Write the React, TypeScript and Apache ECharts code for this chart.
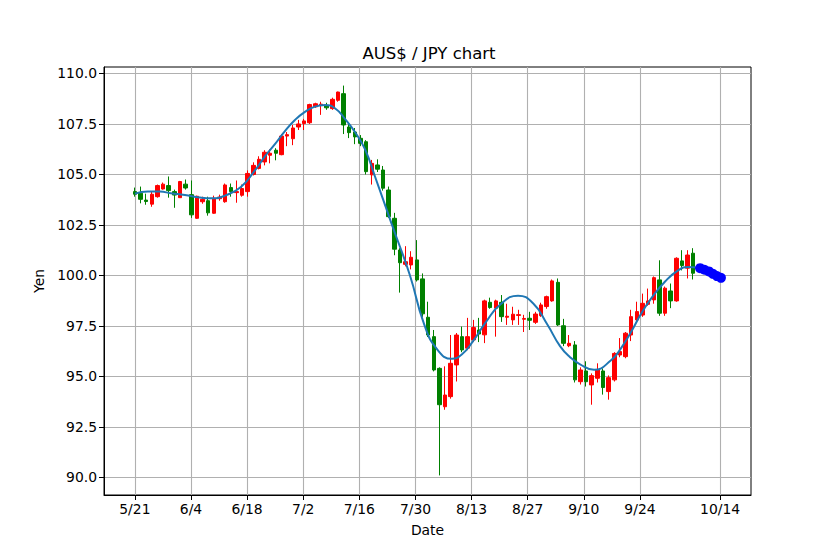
import React, { useEffect, useRef } from "react";
import * as echarts from "echarts";

// Candles (one per trading day, evenly spaced)
const opens = [
  104.15, 104.07, 103.73, 103.53, 103.9, 104.28, 104.45, 104.15, 103.85, 104.52,
  104.0, 102.83, 103.65, 103.7, 103.08, 103.8, 103.65, 104.35, 104.1, 103.97,
  104.15, 105.0, 105.3, 105.62, 105.95, 106.2, 105.98, 106.9, 106.77, 107.35,
  107.52, 107.56, 108.35, 108.42, 108.4, 108.26, 108.67, 109.0, 107.35, 107.1,
  106.79, 106.62, 104.98, 105.47, 105.22, 104.23, 102.83, 101.26, 100.55, 100.52,
  100.77, 99.83, 97.93, 96.97, 95.4, 93.5, 94.0, 95.57, 96.97, 96.4,
  96.81, 97.3, 97.06, 98.67, 98.38, 98.67, 97.93, 97.8, 98.02, 97.83,
  97.88, 97.68, 98.01, 98.46, 98.74, 99.66, 97.51, 96.52, 96.56, 94.74,
  95.27, 94.58, 94.91, 95.27, 94.25, 94.83, 96.06, 95.98, 97.05, 97.8,
  98.04, 98.57, 98.79, 99.78, 98.13, 99.23, 98.74, 100.72, 100.36, 101.1,
];
const closes = [
  104.02, 103.77, 103.66, 104.02, 104.45, 104.52, 104.2, 103.98, 104.65, 104.33,
  103.0, 103.92, 103.77, 103.1, 103.82, 103.88, 104.48, 104.15, 104.15, 104.3,
  105.05, 105.45, 105.75, 106.1, 106.05, 106.05, 106.9, 106.97, 107.3, 107.5,
  107.65, 108.46, 108.5, 108.48, 108.3, 108.72, 109.08, 107.45, 107.07, 106.86,
  106.54, 105.14, 105.55, 105.26, 104.32, 102.91, 101.3, 100.63, 100.68, 100.9,
  99.78, 98.1, 97.05, 95.32, 93.6, 94.08, 95.65, 97.05, 96.31, 96.97,
  97.42, 97.1, 98.74, 98.41, 98.74, 97.96, 97.98, 98.08, 98.06, 97.87,
  97.78, 98.09, 98.54, 98.95, 99.73, 97.55, 96.64, 96.64, 94.83, 95.32,
  94.74, 95.04, 95.32, 94.45, 94.94, 96.14, 96.23, 97.14, 97.96, 98.21,
  98.62, 98.74, 99.89, 98.13, 99.37, 98.74, 100.85, 100.49, 101.01, 100.11,
];
const lows = [
  103.9, 103.57, 103.5, 103.4, 103.85, 104.25, 103.85, 103.35, 103.85, 104.25,
  102.85, 102.8, 103.55, 102.96, 103.05, 103.7, 103.6, 103.9, 103.6, 103.9,
  103.9, 104.95, 105.25, 105.45, 105.55, 105.7, 105.95, 106.4, 106.45, 107.2,
  107.2, 107.5, 108.3, 107.95, 108.2, 108.2, 108.6, 107.0, 106.8, 106.5,
  106.4, 105.0, 104.5, 105.12, 104.2, 102.85, 101.0, 99.15, 100.45, 100.3,
  99.7, 97.95, 96.95, 95.25, 90.1, 93.35, 93.9, 94.75, 96.2, 96.3,
  96.7, 96.7, 96.65, 98.35, 96.97, 97.7, 97.55, 97.55, 97.55, 97.2,
  97.3, 97.6, 97.95, 98.35, 98.7, 97.5, 96.5, 96.45, 94.7, 94.6,
  94.5, 93.6, 94.7, 94.1, 93.85, 94.75, 95.95, 95.9, 96.75, 97.7,
  97.95, 98.5, 98.6, 98.0, 98.0, 98.38, 98.7, 100.25, 99.85, 99.8,
];
const highs = [
  104.35, 104.4, 104.05, 104.15, 104.5, 104.6, 104.9, 104.25, 104.68, 104.75,
  104.7, 103.95, 103.9, 103.9, 103.95, 104.0, 104.55, 104.55, 104.7, 104.5,
  105.2, 105.6, 105.9, 106.2, 106.25, 106.3, 107.0, 107.1, 107.45, 107.7,
  107.75, 108.5, 108.55, 108.6, 108.55, 108.8, 109.1, 109.4, 107.55, 107.3,
  106.95, 106.7, 105.72, 105.75, 105.42, 104.4, 103.1, 101.35, 101.45, 101.2,
  101.75, 100.1, 98.7, 97.3, 95.45, 95.5, 97.05, 97.15, 97.47, 97.9,
  97.8, 97.9, 98.8, 98.9, 98.8, 99.03, 98.6, 98.45, 98.3, 98.05,
  98.2, 98.2, 98.65, 99.0, 99.8, 99.85, 97.85, 97.05, 96.75, 95.45,
  95.75, 95.15, 95.65, 95.4, 95.05, 96.2, 96.9, 97.2, 98.3, 98.7,
  99.1, 99.35, 99.95, 100.75, 99.45, 99.6, 100.9, 101.25, 101.25, 101.35,
];

// Fitted curve (days after 5/21, yen)
const fitDays = [
  0, 3.24, 6.24, 8.98, 12.48, 16.22, 19.22, 22.46, 26.45, 29.95,
  32.44, 34.94, 37.43, 39.93, 42.43, 44.92, 47.42, 49.91, 52.41, 54.9,
  57.4, 59.9, 64.14, 68.63, 72.13, 75.37, 79.11, 81.61, 84.36, 87.6,
  91.09, 95.58, 99.33, 102.82, 106.06, 108.56, 111.06, 114.55, 118.79, 121.29,
  123.78, 126.28, 128.77, 132.27, 135.51, 138.01, 140.5,
];
const fitValues = [
  104.05, 104.15, 104.15, 104.07, 103.98, 103.86, 103.82, 103.95, 104.38, 105.2,
  105.9, 106.5, 107.15, 107.7, 108.1, 108.36, 108.44, 108.28, 107.75, 107.1,
  106.25, 104.9, 102.5, 100.0, 97.6, 96.35, 95.87, 96.1, 96.75, 97.7,
  98.55, 99.0, 98.62, 97.6, 96.5, 95.95, 95.6, 95.33, 95.8, 96.4,
  97.2, 98.1, 98.85, 99.7, 100.25, 100.42, 100.38,
];

// Forecast points
const predDays = [141.0, 142.1, 143.2, 144.2, 145.2, 146.2];
const predValues = [100.36, 100.28, 100.2, 100.08, 99.97, 99.88];

// Axis ticks
const xTickDays = [0, 14, 28, 42, 56, 70, 84, 98, 112, 126, 146];
const xTickLabels = ["5/21", "6/4", "6/18", "7/2", "7/16", "7/30", "8/13", "8/27", "9/10", "9/24", "10/14"];
const yTicks = [90, 92.5, 95, 97.5, 100, 102.5, 105, 107.5, 110];

const CANDLE_STEP_DAYS = 1.407;

export default function App() {
  const ref = useRef<HTMLDivElement>(null);
  useEffect(() => {
    if (!ref.current) return;
    const chart = echarts.init(ref.current, undefined, { renderer: "svg" });
    const candleData = opens.map((o, i) => [i * CANDLE_STEP_DAYS, o, closes[i], lows[i], highs[i]]);
    const fitData = fitDays.map((d, i) => [d, fitValues[i]]);
    const predData = predDays.map((d, i) => [d, predValues[i]]);
    const font = "DejaVu Sans";
    chart.setOption({
      animation: false,
      backgroundColor: "#ffffff",
      textStyle: { fontFamily: font },
      title: {
        text: "AUS$ / JPY chart",
        left: 424,
        top: 40,
        textAlign: "center",
        textStyle: { fontFamily: font, fontSize: 16.5, fontWeight: "normal", color: "#000" },
      },
      grid: {
        left: 104,
        right: 83,
        top: 67,
        bottom: 61,
        show: true,
        borderColor: "#000",
        borderWidth: 1,
        backgroundColor: "transparent",
      },
      xAxis: {
        type: "value",
        min: -7.7,
        max: 153.7,
        name: "Date",
        nameLocation: "middle",
        nameGap: 28,
        nameTextStyle: { fontFamily: font, fontSize: 13.9, color: "#000" },
        axisLine: { show: true, onZero: false, lineStyle: { color: "#000", width: 1 } },
        axisTick: { show: true, length: 5, lineStyle: { color: "#000" }, customValues: xTickDays },
        axisLabel: {
          fontFamily: font,
          fontSize: 13.9,
          color: "#000",
          margin: 7,
          customValues: xTickDays,
          formatter: (v: number) => {
            const idx = xTickDays.findIndex((d) => Math.abs(d - v) < 1e-6);
            return idx >= 0 ? xTickLabels[idx] : "";
          },
        },
        splitLine: { show: true, lineStyle: { color: "#b0b0b0", width: 1.1 } },
      },
      yAxis: {
        type: "value",
        min: 89.13,
        max: 110.32,
        name: "Yen",
        nameLocation: "middle",
        nameGap: 55,
        nameRotate: 90,
        nameTextStyle: { fontFamily: font, fontSize: 13.9, color: "#000" },
        axisLine: { show: true, onZero: false, lineStyle: { color: "#000", width: 1 } },
        axisTick: { show: true, length: 5, lineStyle: { color: "#000" }, customValues: yTicks },
        axisLabel: {
          fontFamily: font,
          fontSize: 13.9,
          color: "#000",
          margin: 7,
          customValues: yTicks,
          formatter: (v: number) => v.toFixed(1),
        },
        splitLine: { show: true, lineStyle: { color: "#b0b0b0", width: 1.1 } },
      },
      series: [
        {
          type: "candlestick",
          data: candleData,
          barWidth: 4,
          itemStyle: {
            color: "#ff0000",
            color0: "#008000",
            borderColor: "#ff0000",
            borderColor0: "#008000",
            borderColorDoji: "#ff0000",
            borderWidth: 1,
          },
          z: 2,
        },
        {
          type: "line",
          data: fitData,
          smooth: true,
          showSymbol: false,
          lineStyle: { color: "#1f77b4", width: 2 },
          z: 3,
        },
        {
          type: "scatter",
          data: predData,
          symbolSize: 10,
          itemStyle: { color: "#0000ff", opacity: 1 },
          z: 4,
        },
      ],
    });
    return () => chart.dispose();
  }, []);
  return (
    <div
      ref={ref}
      style={{ position: "fixed", left: 0, top: 0, width: 834, height: 556, background: "#fff" }}
    />
  );
}
